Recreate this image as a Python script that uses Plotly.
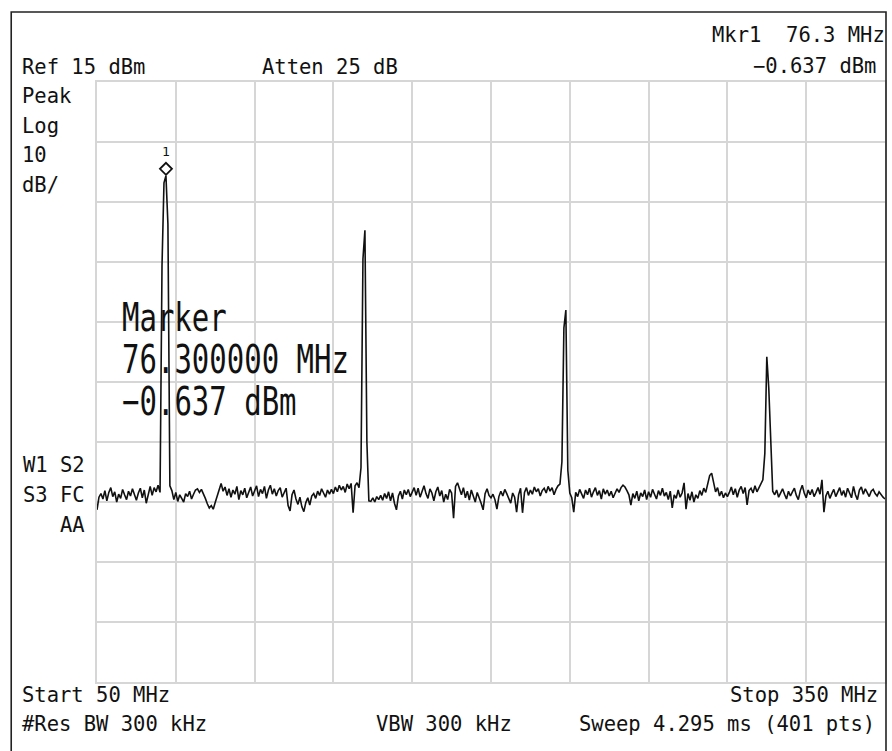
import numpy as np
import plotly.graph_objects as go

# ---- instrument settings ----
START_MHZ = 50
STOP_MHZ = 350
REF_DBM = 15
DB_PER_DIV = 10
N_DIV = 10
MARKER_INDEX = 35  # trace point carrying marker 1 (76.3 MHz)

# ---- trace: 401 points, dBm ----
trace_dbm = [
    -56.3, -54.2, -53.6, -54.5, -53.1, -54.8, -53.4, -52.6, -54.1, -53.3,
    -55.0, -53.7, -54.4, -52.9, -53.8, -54.6, -53.2, -54.0, -52.8, -53.9,
    -54.7, -53.5, -52.7, -54.3, -53.0, -55.2, -53.6, -52.4, -53.9, -52.6,
    -53.3, -52.2, -53.4, -15.6, -1.8, -0.637, -8.7, -52.3, -53.1, -54.6,
    -53.4, -54.9, -53.8, -54.3, -55.0, -53.6, -54.1, -53.2, -54.5, -53.7,
    -53.0, -52.8, -53.4, -52.9, -53.6, -54.4, -55.3, -56.0, -55.6, -56.2,
    -55.1, -54.0, -52.6, -51.9, -53.2, -52.5, -53.9, -52.8, -54.2, -53.0,
    -53.7, -52.4, -54.6, -53.1, -53.8, -52.7, -54.3, -53.3, -52.5, -54.0,
    -53.2, -52.3, -54.1, -52.9, -53.6, -52.4, -54.4, -53.0, -52.2, -53.7,
    -52.8, -54.0, -53.1, -52.6, -54.2, -53.4, -52.7, -55.6, -56.5, -53.8,
    -53.0, -54.5, -55.4, -54.2, -55.8, -56.6, -55.1, -54.3, -55.5, -54.0,
    -53.6, -54.4, -53.2, -53.9, -52.8, -53.5, -54.2, -53.0, -53.7, -52.9,
    -53.6, -52.5, -53.3, -52.2, -53.0, -52.4, -53.4, -52.0, -52.8, -51.9,
    -56.8, -52.3, -51.8, -52.6, -49.3, -14.5, -9.7, -45.0, -54.8, -54.9,
    -54.3, -55.0, -54.1, -54.6, -53.9, -54.7, -53.6, -54.4, -53.3, -54.8,
    -53.5, -55.2, -56.3, -54.0, -53.2, -54.5, -53.0, -53.8, -52.9, -54.1,
    -53.4, -52.6, -53.9, -52.7, -54.2, -53.1, -52.3, -53.6, -54.4, -52.8,
    -53.5, -54.8, -53.3, -52.5, -54.0, -53.1, -55.0, -53.7, -54.6, -52.9,
    -53.5, -57.7, -52.4, -51.8, -52.9, -53.8, -52.6, -54.3, -53.2, -54.7,
    -53.0, -53.9, -55.0, -53.4, -54.2, -55.2, -56.3, -53.6, -52.8, -53.9,
    -54.3, -53.7, -54.6, -56.2, -54.1, -53.2, -54.0, -52.9, -53.6, -54.3,
    -55.2, -53.5, -54.2, -56.7, -53.8, -52.7, -56.8, -53.4, -52.6, -53.9,
    -53.0, -53.7, -52.5, -53.3, -52.8, -54.0, -53.1, -52.7, -53.5, -52.4,
    -53.2, -52.6, -53.8, -52.9, -52.3, -52.0, -48.3, -26.0, -23.0, -49.7,
    -53.5, -54.3, -56.7, -53.4, -54.1, -52.9, -53.6, -54.4, -53.0, -53.8,
    -52.7, -54.2, -53.3, -52.6, -53.9, -53.1, -54.5, -52.8, -53.7, -53.0,
    -54.0, -53.2, -54.3, -53.5, -52.8, -53.4, -52.6, -52.2, -52.5, -53.1,
    -53.8, -55.5, -53.6, -54.4, -53.2, -54.8, -53.5, -54.1, -53.0, -54.6,
    -53.3, -54.2, -52.9, -53.7, -54.5, -53.1, -53.9, -52.7, -54.0, -53.4,
    -54.6, -53.2, -56.0, -53.8, -54.4, -53.0, -54.2, -53.5, -51.8, -56.2,
    -53.6, -54.7, -53.3, -55.0, -53.8, -54.4, -53.1, -53.9, -52.7, -53.4,
    -52.2, -50.6, -50.2, -51.6, -53.3, -52.6, -54.0, -53.2, -54.3, -53.5,
    -54.1, -53.4, -52.5, -53.8, -52.8, -54.2, -53.0, -52.4, -53.6, -52.6,
    -55.5, -53.1, -52.7, -53.5, -52.3, -53.3, -52.6, -52.0, -51.3, -46.9,
    -30.8, -36.0, -44.8, -53.2, -53.8, -53.0, -54.2, -53.4, -52.8, -53.7,
    -54.5, -53.2, -54.0, -53.3, -52.7, -53.9, -54.6, -53.1, -52.2, -53.5,
    -54.3, -53.0, -53.8, -52.9, -54.1, -53.4, -52.6, -53.7, -51.3, -56.7,
    -54.0, -53.2, -54.4, -53.6, -52.9, -54.1, -53.3, -52.6, -53.9, -53.1,
    -54.2, -52.7, -53.5, -54.3, -52.4, -53.8, -54.6, -53.0, -52.5, -53.7,
    -52.8, -53.4, -54.1, -53.2, -52.9, -53.6, -54.0, -53.3, -53.8, -54.2,
    -54.5,
]

# ---- screen annotations ----
header_left = ["Ref 15 dBm", "Atten 25 dB"]
header_right = ["Mkr1  76.3 MHz", "\u22120.637 dBm"]
side_labels = ["Peak", "Log", "10", "dB/"]
status_labels = ["W1 S2", "S3 FC", "   AA"]
footer_left = ["Start 50 MHz", "#Res BW 300 kHz"]
footer_mid = "VBW 300 kHz"
footer_right = ["Stop 350 MHz", "Sweep 4.295 ms (401 pts)"]
marker_block = ["Marker", "76.300000 MHz", "\u22120.637 dBm"]

freq = np.linspace(START_MHZ, STOP_MHZ, len(trace_dbm))
y_bottom = REF_DBM - DB_PER_DIV * N_DIV

W, H = 892, 751
ML, MR, MT, MB = 97, 5, 82, 69
PW, PH = W - ML - MR, H - MT - MB


def px(xp):
    return (xp - ML) / PW


def py(yp):
    return 1 - (yp - MT) / PH


MONO = "DejaVu Sans Mono"
SMALL = dict(family=MONO, size=20.5, color="#111111")
BIG = dict(family=MONO, size=29, color="#111111")

fig = go.Figure()
fig.add_trace(go.Scatter(
    x=freq, y=trace_dbm, mode="lines",
    line=dict(color="#111111", width=1.6),
    hoverinfo="skip", showlegend=False,
))

ann = []


def text(t, x, y, xanchor="left", font=SMALL):
    ann.append(dict(text=t, x=px(x), y=py(y), xref="paper", yref="paper",
                    xanchor=xanchor, yanchor="middle", showarrow=False,
                    font=font))


text(header_left[0], 20, 67)
text(header_left[1], 260, 67)
text(header_right[0], 889, 35, "right")
text(header_right[1], 880, 66, "right")
for i, s in enumerate(side_labels):
    text(s, 20, 96 + i * 29.7)
for i, s in enumerate(status_labels):
    text(s, 21, 465 + i * 30)
text(footer_left[0], 20, 695)
text(footer_left[1], 20, 724)
text(footer_mid, 375, 724)
text(footer_right[0], 882, 695, "right")
text(footer_right[1], 879, 724, "right")
for i, s in enumerate(marker_block):
    text(s, 120, 318 + i * 42, font=BIG)

# marker number above diamond
ann.append(dict(text="1", x=freq[MARKER_INDEX], y=trace_dbm[MARKER_INDEX],
                xref="x", yref="y", showarrow=False, yshift=24,
                font=dict(family=MONO, size=13, color="#111111")))

shapes = [
    # instrument screen frame
    dict(type="rect", xref="paper", yref="paper",
         x0=px(11), x1=px(888), y0=py(770), y1=py(12),
         line=dict(color="#222222", width=1.6)),
    # marker diamond sitting on the peak
    dict(type="path", xref="x", yref="y", xsizemode="pixel", ysizemode="pixel",
         xanchor=freq[MARKER_INDEX], yanchor=trace_dbm[MARKER_INDEX],
         path="M0,1 L6,7 L0,13 L-6,7 Z",
         line=dict(color="#111111", width=1.8), fillcolor="white"),
]

grid = "#d6d6d6"
fig.update_layout(
    width=W, height=H, autosize=False,
    margin=dict(l=ML, r=MR, t=MT, b=MB, pad=0),
    paper_bgcolor="white", plot_bgcolor="white",
    annotations=ann, shapes=shapes, showlegend=False,
    xaxis=dict(range=[START_MHZ, STOP_MHZ], tick0=START_MHZ,
               dtick=(STOP_MHZ - START_MHZ) / N_DIV,
               showgrid=True, gridcolor=grid, gridwidth=2,
               showline=True, linecolor=grid, linewidth=2, mirror=True,
               showticklabels=False, ticks="", zeroline=False, fixedrange=True),
    yaxis=dict(range=[y_bottom, REF_DBM], tick0=REF_DBM, dtick=DB_PER_DIV,
               showgrid=True, gridcolor=grid, gridwidth=2,
               showline=True, linecolor=grid, linewidth=2, mirror=True,
               showticklabels=False, ticks="", zeroline=False, fixedrange=True),
)

# The instrument's large marker readout uses a tall, narrow bitmap font:
# stretch those labels vertically about their own centre.
stretch_js = """
var gd = document.getElementById('{plot_id}');
gd.querySelectorAll('text.annotation-text').forEach(function(t){
  var fs = parseFloat(t.style.fontSize || '0');
  if (fs >= 28) {
    var b = t.getBBox();
    var cy = b.y + b.height / 2;
    var s = 1.35;
    t.setAttribute('transform', 'translate(0,' + (cy * (1 - s)) + ') scale(1,' + s + ')');
  }
});
"""

fig.write_html("out.html", config={"displayModeBar": False}, post_script=stretch_js)
